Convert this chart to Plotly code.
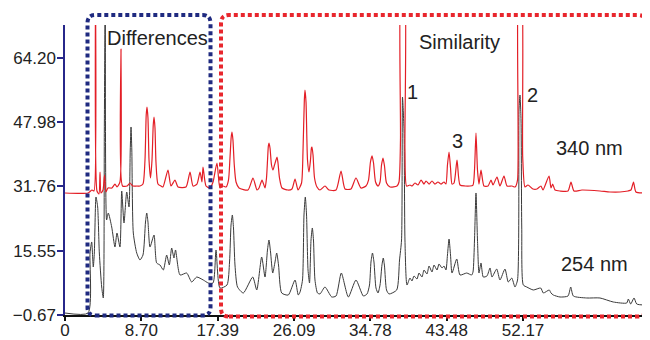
import plotly.graph_objects as go

# ---- data (time in min, absorbance offset units) ----
# 340 nm trace (red)
t_340 = [0, 2.62, 3.08, 3.30, 3.47, 3.64, 3.87, 3.99, 4.10, 4.33, 4.50, 4.67, 4.90, 5.35, 5.69, 5.92,
         6.26, 6.38, 6.55, 7.06, 7.40, 7.74, 8.20,
         8.54, 8.88, 9.11, 9.25, 9.34, 9.45, 9.57, 9.74, 9.91, 10.05, 10.14, 10.25, 10.36, 10.59, 10.93,
         11.16, 11.73, 12.07, 12.53, 12.87, 13.78, 14.24, 14.58, 15.03, 15.38, 15.60, 15.72, 16.06,
         16.51, 16.86, 17.31, 17.65, 17.99,
         18.34, 18.62, 18.79, 18.93, 19.02, 19.13, 19.28, 19.48, 19.82,
         20.84, 21.41, 21.87, 22.10,
         22.44, 22.78, 22.95, 23.08, 23.16, 23.23, 23.35, 23.52, 23.69, 23.86, 24.03, 24.15, 24.26,
         24.43, 24.72,
         25.40, 25.85, 26.20,
         26.54, 26.94, 27.11, 27.26, 27.33, 27.45, 27.62, 27.79, 27.96, 28.07, 28.13, 28.25, 28.42,
         28.70, 29.04,
         29.61, 30.07, 30.87, 31.44, 31.89, 32.57, 33.14, 33.71,
         34.28, 34.57, 34.79, 34.97, 35.14, 35.37, 35.65, 35.88, 36.05, 36.22, 36.39, 36.62, 37.02,
         37.81, 38.04, 38.21, 38.33, 38.61, 38.72, 38.90, 39.29, 39.52, 39.86, 40.20, 40.55, 40.89,
         41.12, 41.46, 41.80, 42.14, 42.48, 42.82, 43.17, 43.39,
         43.56, 43.74, 43.91, 44.08, 44.31, 44.65, 44.99, 45.56, 46.13, 46.47,
         46.64, 46.81, 46.98, 47.15, 47.38, 47.72, 48.18, 48.52, 48.75, 49.20, 49.54, 50.00, 50.34,
         50.91, 51.25, 51.54, 51.71, 51.94, 52.13, 52.39, 52.73, 53.30, 53.76, 54.21, 54.44, 55.13,
         55.35, 55.54, 55.81, 56.38, 57.29, 57.63, 57.97, 58.88, 60.93, 62.07, 63.21, 64.12, 64.46,
         64.75, 65.03, 66.17]
abs_340 = [30.11, 30.11, 30.86, 30.61, 85, 30.61, 29.85, 35.40, 30.11, 30.86, 34.65, 30.36, 31.37, 31.37,
           32.37, 31.62, 32.88, 66.43, 31.87, 31.87, 32.63, 31.87, 31.87,
           31.87, 32.37, 38.43, 49.78, 51.80, 49.03, 38.43, 33.89, 38.43, 47.26, 49.28, 46.50, 37.93,
           32.37, 31.87,
           31.62, 35.91, 31.87, 33.38, 31.62, 31.62, 35.40, 31.87, 32.37, 35.40, 32.88, 36.67, 31.87,
           31.37, 32.88, 37.68, 31.37, 31.87,
           31.62, 33.38, 38.94, 44.23, 45.49, 43.48, 37.17, 32.88, 31.37,
           30.86, 33.89, 30.86, 31.37,
           33.38, 31.37, 33.89, 38.94, 41.96, 42.72, 41.46, 37.17, 35.91, 37.17, 38.43, 39.19, 37.68,
           33.89, 31.37,
           30.86, 31.12, 33.64,
           30.86, 32.63, 40.96, 53.57, 56.09, 53.07, 38.43, 35.40, 38.43, 41.46, 41.71, 39.70, 33.89,
           31.62, 30.86,
           31.87, 30.86, 30.86, 35.66, 31.12, 31.12, 33.89, 31.37,
           31.87, 33.38, 37.93, 39.45, 37.68, 32.88, 31.87, 32.88, 37.17, 38.94, 36.92, 32.63, 31.62,
           31.87, 32.88, 43.48, 85, 85, 40.96, 31.87, 32.12, 31.87, 32.63, 32.12, 33.38, 32.37,
           33.13, 32.37, 33.13, 32.37, 32.88, 32.37, 32.88, 32.37,
           37.17, 40.45, 36.41, 32.37, 32.63, 38.43, 32.12, 31.87, 31.87, 32.12,
           35.91, 45.24, 35.91, 32.37, 35.91, 31.87, 31.87, 33.38, 32.12, 34.14, 31.87, 34.39, 31.87,
           31.87, 31.62, 33.38, 85, 85, 39.19, 31.62, 32.12, 31.12, 31.12, 31.87, 30.86, 34.39,
           31.37, 32.37, 30.86, 30.61, 30.61, 32.88, 30.61, 30.86, 30.61, 30.36, 30.36, 30.61, 30.86,
           32.88, 30.36, 30.11]

# 254 nm trace (black)
t_254 = [0, 2.62, 2.85, 3.04, 3.22, 3.34, 3.53, 3.72, 3.91, 4.18, 4.36, 4.48, 4.59, 4.74, 4.93, 5.32,
         5.69, 5.92, 6.26, 6.46, 6.72, 7.03, 7.29,
         7.43, 7.52, 7.61, 7.78, 8.17, 8.54, 8.88, 9.17, 9.31, 9.45, 9.68, 10.14, 10.44, 10.82, 11.20,
         11.58, 11.88, 12.15, 12.41, 12.59, 13.10, 13.86, 14.43, 15.00, 15.75, 16.32, 16.86, 17.20,
         17.65,
         18.45, 18.74, 18.91, 19.06, 19.19, 19.36, 19.65,
         20.31, 21.38, 21.84, 22.40, 22.78, 23.06, 23.23, 23.41, 23.66, 23.92, 24.11, 24.32, 24.68,
         25.43, 26.20, 26.57,
         26.77, 27.05, 27.22, 27.37, 27.51, 27.68, 27.85, 28.02, 28.17, 28.30, 28.47, 28.76,
         29.04, 29.61, 30.38, 30.87, 31.47, 32.27, 33.14, 33.98,
         34.40, 34.68, 34.85, 35.02, 35.19, 35.42, 35.65, 35.88, 36.10, 36.25, 36.39, 36.62, 36.90,
         37.78, 38.10, 38.33, 38.44, 38.61, 38.72, 38.95, 39.29, 39.52, 39.75, 40.09, 40.32, 40.66,
         40.89, 41.23, 41.46, 41.80, 42.03, 42.37, 42.60, 42.94, 43.17, 43.39,
         43.56, 43.74, 43.91, 44.08, 44.62, 44.99, 45.75, 46.32, 46.47, 46.64, 46.81, 46.98, 47.15,
         47.38, 47.64, 48.06, 48.41, 48.63, 49.17, 49.54, 50.11, 50.49, 50.88, 51.25, 51.54, 51.71,
         51.82, 51.94, 52.02, 52.20, 52.59, 53.34, 54.18, 54.48, 55.16, 55.35, 55.62, 56.38, 57.29,
         57.60, 57.90, 59.42, 60.93, 62.45, 63.98, 64.16, 64.43, 64.81, 65.12, 66.17]
abs_254 = [-0.17, -0.17, 14.97, 17.75, 11.44, 14.97, 29.10, 26.58, 14.97, 6.39, 3.62, 46.0, 85, 23.30,
           25.06, 21.53, 16.48, 20.01, 16.48, 30.61, 22.54, 30.36, 26.58,
           40.95, 46.76, 40.95, 20.01, 14.97, 13.21, 14.46, 22.79, 25.06, 22.79, 16.48, 19.51, 12.45,
           11.94, 10.68, 14.46, 11.94, 16.23, 13.71, 15.73, 9.42, 9.92, 7.65, 8.91, 8.16, 7.40, 7.40,
           15.73, 6.14,
           6.89, 12.70, 22.03, 24.56, 21.28, 11.94, 6.39,
           4.88, 8.91, 5.64, 13.96, 8.91, 15.73, 18.25, 15.22, 9.92, 12.70, 14.97, 11.94, 4.88,
           4.37, 8.16, 4.37,
           5.13, 8.16, 24.56, 29.10, 24.56, 10.68, 7.40, 18.25, 21.28, 18.25, 8.16, 4.88,
           4.63, 6.39, 3.87, 4.12, 9.92, 3.87, 8.16, 4.12,
           4.63, 6.89, 12.70, 14.97, 12.70, 6.14, 4.88, 6.89, 11.94, 13.71, 11.69, 5.64, 4.63,
           5.64, 13.21, 18.25, 54.32, 46.0, 18.25, 6.89, 8.66, 7.91, 9.17, 8.41, 9.92, 8.91,
           10.68, 9.67, 11.69, 10.18, 11.94, 10.68, 12.20, 11.19, 11.69, 10.68,
           14.46, 18.50, 14.46, 9.92, 13.46, 9.42, 9.92, 9.42, 10.18, 18.25, 30.11, 18.25, 9.92,
           12.45, 8.91, 9.17, 11.19, 8.91, 10.93, 8.16, 10.93, 7.65, 8.66, 6.39, 8.16, 51.05,
           54.83, 48.52, 21.53, 6.89, 6.39, 5.64, 6.14, 4.88, 5.64, 4.88, 4.37, 3.87, 4.12,
           6.39, 4.12, 3.62, 3.62, 2.61, 2.36, 3.36, 2.10, 3.62, 2.10, 1.85]

y_ticks = [-0.67, 15.55, 31.76, 47.98, 64.20]
y_tick_text = ["\u22120.67", "15.55", "31.76", "47.98", "64.20"]
x_ticks = [0, 8.70, 17.39, 26.09, 34.78, 43.48, 52.17]
x_tick_text = ["0", "8.70", "17.39", "26.09", "34.78", "43.48", "52.17"]

# ---- layout geometry ----
# the page body has an 8px default margin, so the figure is drawn 8px smaller
OFF = 8
W, H = 650 - OFF, 340 - OFF
PLOT_L, PLOT_R, PLOT_T, PLOT_B = 65, 648, 25, 315   # plot area in window pixels
ML, MT = PLOT_L - OFF, PLOT_T - OFF
MR, MB = W - (PLOT_R - OFF), H - (PLOT_B - OFF)
PW, PH = PLOT_R - PLOT_L, PLOT_B - PLOT_T

def px(x):
    return (x - PLOT_L) / PW

def py(y):
    return (PLOT_B - y) / PH

def rounded_rect(x0, y0, x1, y1, r=8):
    rx, ry = r / PW, r / PH
    X0, X1, Y0, Y1 = px(x0), px(x1), py(y1), py(y0)
    return (f"M {X0+rx},{Y0} L {X1-rx},{Y0} Q {X1},{Y0} {X1},{Y0+ry} "
            f"L {X1},{Y1-ry} Q {X1},{Y1} {X1-rx},{Y1} L {X0+rx},{Y1} "
            f"Q {X0},{Y1} {X0},{Y1-ry} L {X0},{Y0+ry} Q {X0},{Y0} {X0+rx},{Y0} Z")

FONT = "Liberation Sans, Arial, Helvetica, sans-serif"

fig = go.Figure()
fig.add_trace(go.Scatter(x=t_254, y=abs_254, mode="lines",
                         line=dict(color="#3a3a3a", width=1, shape="spline", smoothing=0.6),
                         hoverinfo="skip"))
fig.add_trace(go.Scatter(x=t_340, y=abs_340, mode="lines",
                         line=dict(color="#e31e26", width=1.2, shape="spline", smoothing=0.6),
                         hoverinfo="skip"))

fig.update_layout(
    width=W, height=H, margin=dict(l=ML, r=MR, t=MT, b=MB, pad=0, autoexpand=False),
    paper_bgcolor="white", plot_bgcolor="white", showlegend=False,
    font=dict(family=FONT, size=17, color="#222222"),
    xaxis=dict(range=[0, PW / 8.78], tickvals=x_ticks, ticktext=x_tick_text, automargin=False,
               showgrid=False, zeroline=False, showline=True, linecolor="#111111",
               linewidth=2, ticks="outside", ticklen=4, tickwidth=1.5, tickcolor="#111111",
               ticklabelstandoff=-5,
               tickfont=dict(size=17, color="#222222")),
    yaxis=dict(range=[-0.67, -0.67 + PH / 3.964], tickvals=y_ticks, ticktext=y_tick_text,
               automargin=False,
               showgrid=False, zeroline=False, showline=True, linecolor="#27278a",
               linewidth=1.5, ticks="outside", ticklen=6, tickwidth=1.5, tickcolor="#27278a",
               ticklabelstandoff=-2,
               tickfont=dict(size=17, color="#222222")),
)

fig.add_shape(type="path", xref="paper", yref="paper",
              path=rounded_rect(87.5, 15, 210.5, 315.5),
              line=dict(color="#1f2a80", width=4, dash="4px,3px"))
fig.add_shape(type="path", xref="paper", yref="paper",
              path=rounded_rect(221, 15, 646, 316.5),
              line=dict(color="#e8262d", width=4, dash="4px,3px"))

labels = [
    ("Differences", 157, 38),
    ("Similarity", 459, 42),
    ("1", 412.5, 92),
    ("3", 457.5, 141),
    ("2", 532, 95),
    ("340 nm", 589, 148),
    ("254 nm", 594, 264),
]
for text, x, y in labels:
    fig.add_annotation(text=text, x=px(x), y=py(y), xref="paper", yref="paper",
                       showarrow=False, xanchor="center", yanchor="middle",
                       font=dict(family=FONT, size=20, color="#222222"))

fig.write_html("out.html")
